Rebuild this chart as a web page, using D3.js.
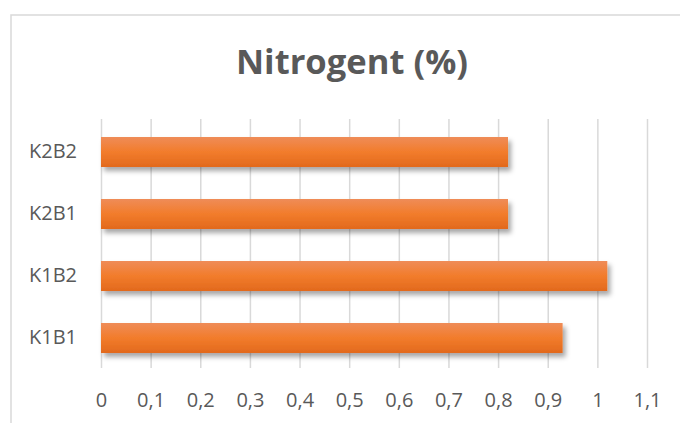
<!DOCTYPE html>
<html>
<head>
<meta charset="utf-8">
<script src="https://d3js.org/d3.v7.min.js"></script>
<style>
  body { margin: 0; background: #fff; }
  text { font-family: "Open Sans", sans-serif; fill: #595959; }
</style>
</head>
<body>
<div id="chart"></div>
<script>
var categories = ["K1B1", "K1B2", "K2B1", "K2B2"];
var values = [0.93, 1.02, 0.82, 0.82];
var tickValues = [0, 0.1, 0.2, 0.3, 0.4, 0.5, 0.6, 0.7, 0.8, 0.9, 1, 1.1];

var svgWidth = 680;
var svgHeight = 423;

var margin = { top: 121, right: 33, bottom: 54, left: 101 };
var width = svgWidth - margin.left - margin.right;
var height = svgHeight - margin.top - margin.bottom;

var svg = d3.select("#chart")
  .append("svg")
  .attr("width", svgWidth)
  .attr("height", svgHeight);

// gradient + shadow for the bars
var defs = svg.append("defs");
var grad = defs.append("linearGradient")
  .attr("id", "barGrad")
  .attr("x1", 0).attr("y1", 0).attr("x2", 0).attr("y2", 1);
grad.append("stop").attr("offset", "0%").attr("stop-color", "#ef8c58");
grad.append("stop").attr("offset", "50%").attr("stop-color", "#f27c2b");
grad.append("stop").attr("offset", "100%").attr("stop-color", "#e2691d");

var shadow = defs.append("filter")
  .attr("id", "shadow")
  .attr("x", "-5%").attr("y", "-30%")
  .attr("width", "115%").attr("height", "190%");
shadow.append("feDropShadow")
  .attr("dx", 3).attr("dy", 4)
  .attr("stdDeviation", 2.5)
  .attr("flood-color", "#000")
  .attr("flood-opacity", 0.35);

// chart area border
svg.append("rect")
  .attr("x", 11)
  .attr("y", 15)
  .attr("width", 700)
  .attr("height", 450)
  .attr("fill", "none")
  .attr("stroke", "#d9d9d9")
  .attr("stroke-width", 1.5);

// title
svg.append("text")
  .attr("x", 352)
  .attr("y", 74)
  .attr("text-anchor", "middle")
  .attr("textLength", 232)
  .attr("lengthAdjust", "spacingAndGlyphs")
  .style("font-size", "34px")
  .style("font-weight", "bold")
  .text("Nitrogent (%)");

var chartGroup = svg.append("g")
  .attr("transform", `translate(${margin.left}, ${margin.top})`);

var xScale = d3.scaleLinear()
  .domain([0, 1.1])
  .range([0, width]);

var yScale = d3.scaleBand()
  .domain(categories.slice().reverse())
  .range([0, height])
  .paddingInner(0.516)
  .paddingOuter(0.258);

// gridlines
var xAxis = d3.axisBottom(xScale)
  .tickValues(tickValues)
  .tickSize(-height - 1)
  .tickFormat(d => d3.format("~g")(d).replace(".", ","));

var xg = chartGroup.append("g")
  .attr("transform", `translate(0,${height - 1})`)
  .call(xAxis);
xg.select(".domain").remove();
xg.selectAll(".tick line")
  .attr("stroke", "#d9d9d9")
  .attr("stroke-width", 1.5);
xg.selectAll(".tick text")
  .attr("y", 25)
  .attr("dy", "0.71em")
  .style("font-size", "20px");

// bars
chartGroup.selectAll(".bar")
  .data(values)
  .enter()
  .append("rect")
  .attr("class", "bar")
  .attr("x", 0)
  .attr("y", (d, i) => yScale(categories[i]))
  .attr("width", d => xScale(d))
  .attr("height", yScale.bandwidth())
  .attr("fill", "url(#barGrad)")
  .attr("filter", "url(#shadow)");

// category labels
var yAxis = d3.axisLeft(yScale).tickSize(0).tickPadding(24);
var yg = chartGroup.append("g").call(yAxis);
yg.select(".domain").remove();
yg.selectAll(".tick text")
  .style("font-size", "20px");
</script>
</body>
</html>
